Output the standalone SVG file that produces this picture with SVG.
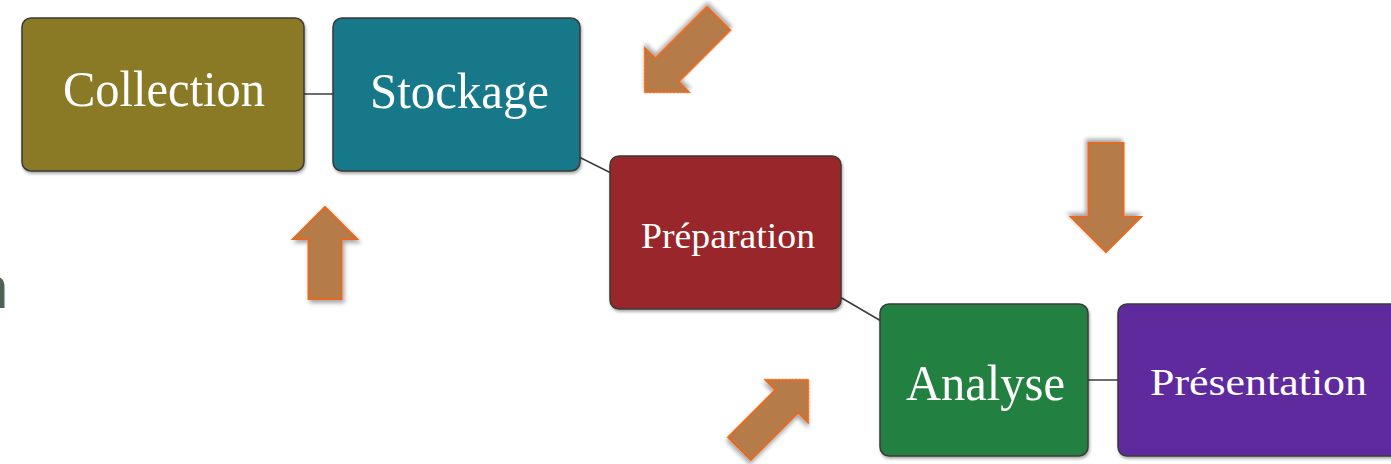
<svg xmlns="http://www.w3.org/2000/svg" width="1391" height="464" viewBox="0 0 1391 464">
<style>
.box{stroke:#3a3a3a;stroke-width:1.5;filter:url(#sh)}
.lbl{font-family:"Liberation Serif","DejaVu Serif",serif;fill:#ffffff;text-anchor:middle}
.conn{stroke:#3c3c3c;stroke-width:1.5;fill:none}
.arr{fill:#b57b4a;stroke:#e46b22;stroke-width:2;stroke-linejoin:miter;filter:url(#ash)}
</style>
<defs>
<filter id="sh" x="-10%" y="-10%" width="120%" height="125%"><feDropShadow dx="1" dy="2" stdDeviation="1.5" flood-color="#000" flood-opacity="0.35"/></filter>
<filter id="ash" x="-30%" y="-30%" width="160%" height="160%"><feDropShadow dx="2" dy="3" stdDeviation="2" flood-color="#000" flood-opacity="0.35"/></filter>
</defs>
<rect width="1391" height="464" fill="#ffffff"/>
<text x="-25" y="308" font-family="Liberation Sans, sans-serif" font-size="60" fill="#4d6356">n</text>
<g id="connectors">
<line class="conn" x1="304" y1="94" x2="334" y2="94"/>
<line class="conn" x1="579" y1="157" x2="611" y2="173"/>
<line class="conn" x1="840" y1="297" x2="881" y2="321"/>
<line class="conn" x1="1088" y1="380" x2="1119" y2="380"/>
</g>
<g id="collection">
<rect class="box" x="22" y="18" width="282" height="153" rx="9" fill="#8a7a25"/>
<text class="lbl" x="164" y="106" font-size="51" textLength="202" lengthAdjust="spacingAndGlyphs">Collection</text>
</g>
<g id="stockage">
<rect class="box" x="333" y="18" width="247" height="153" rx="9" fill="#127889"/>
<text class="lbl" x="459.5" y="108" font-size="50" textLength="179" lengthAdjust="spacingAndGlyphs">Stockage</text>
</g>
<g id="preparation">
<rect class="box" x="610" y="156" width="231" height="153" rx="9" fill="#98272a"/>
<text class="lbl" x="728" y="248" font-size="36" textLength="174" lengthAdjust="spacingAndGlyphs">Préparation</text>
</g>
<g id="analyse">
<rect class="box" x="880" y="304" width="208" height="152" rx="9" fill="#238040"/>
<text class="lbl" x="985.5" y="400" font-size="50" textLength="159" lengthAdjust="spacingAndGlyphs">Analyse</text>
</g>
<g id="presentation">
<rect class="box" x="1118" y="304" width="290" height="152" rx="9" fill="#5f2a9e"/>
<text class="lbl" x="1258.5" y="395" font-size="38" textLength="217" lengthAdjust="spacingAndGlyphs">Présentation</text>
</g>
<g id="arrow-up">
<path class="arr" transform="translate(325,207)" d="M0,0 L32,32 L16.5,32 L16.5,92 L-16.5,92 L-16.5,32 L-32,32 Z"/>
</g>
<g id="arrow-down">
<path class="arr" transform="translate(1106,252) rotate(180)" d="M0,0 L35,35 L17.5,35 L17.5,109 L-17.5,109 L-17.5,35 L-35,35 Z"/>
</g>
<g id="arrow-downleft">
<path class="arr" transform="translate(645,92) rotate(225)" d="M0,0 L31,31 L16.5,31 L16.5,104 L-16.5,104 L-16.5,31 L-31,31 Z"/>
</g>
<g id="arrow-upright">
<path class="arr" transform="translate(808,380) rotate(45)" d="M0,0 L30,30 L16,30 L16,97 L-16,97 L-16,30 L-30,30 Z"/>
</g>
</svg>
